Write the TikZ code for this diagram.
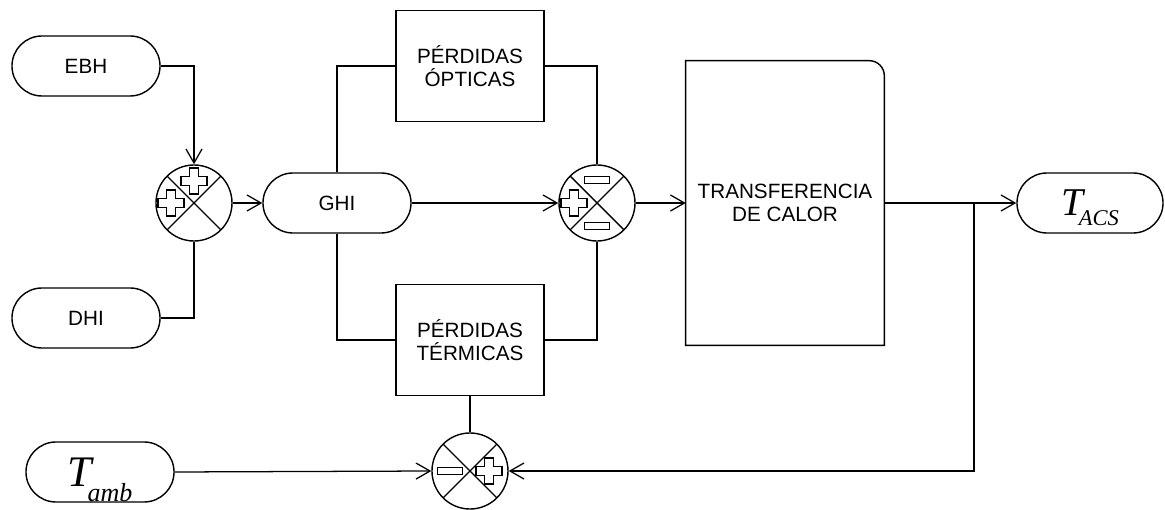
\documentclass[tikz,border=0pt]{standalone}
\usepackage{fontspec}
\setmainfont{Liberation Sans}
\newfontfamily\timesfont{Liberation Serif}
\usetikzlibrary{arrows.meta}
\newcommand{\tvar}[4]{{\timesfont\itshape\fontsize{#1}{#1}\selectfont T\kern-0.1em\smash{\raisebox{#3}{\fontsize{#2}{#2}\selectfont #4}}}}
\begin{document}
\begin{tikzpicture}[
  x=0.025cm, y=-0.025cm,
  >={Straight Barb[length=3.5mm,width=4mm]},
  every node/.style={font=\fontsize{14.7}{16.5}\selectfont},
  term/.style={draw, line width=1pt, rounded corners=0.75cm, minimum width=3.7cm, minimum height=1.5cm, inner sep=0pt},
  block/.style={draw, line width=1pt, align=center, minimum width=3.7cm, minimum height=2.775cm, inner sep=0pt},
  sumj/.style={draw, line width=1pt, circle, minimum size=1.9cm, inner sep=0pt,
    path picture={\draw[line width=1pt] (path picture bounding box.north west) -- (path picture bounding box.south east)
      (path picture bounding box.north east) -- (path picture bounding box.south west);}},
  wire/.style={line width=0.9pt},
  sign/.style={line width=0.9pt},
  plussign/.pic={\draw[sign] (-4.5,-13) -- (4.5,-13) -- (4.5,-4.5) -- (13,-4.5) -- (13,4.5) -- (4.5,4.5) -- (4.5,13)
    -- (-4.5,13) -- (-4.5,4.5) -- (-13,4.5) -- (-13,-4.5) -- (-4.5,-4.5) -- cycle;},
  minussign/.pic={\draw[sign] (-12.5,-3.5) rectangle (12.5,3.5);}
]
  \useasboundingbox (0,0) rectangle (1165,510);

  \node[term] (ebh) at (86,66) {EBH};
  \node[term] (dhi) at (86,318) {DHI};
  \node[term] (ghi) at (337,203) {GHI};
  \node[term] (tamb) at (100,472) {\tvar{31}{18.5}{-10.6pt}{amb}};
  \node[term, minimum width=3.65cm] (tacs) at (1090,203) {\tvar{28}{16}{-7pt}{ACS}};

  \node[sumj] (s1) at (194,203) {};
  \node[sumj] (s2) at (597,203) {};
  \node[sumj] (s3) at (470,471) {};
  \pic at (194,181) {plussign};
  \pic at (171,203) {plussign};
  \pic at (597,180) {minussign};
  \pic at (574,203) {plussign};
  \pic at (597,226) {minussign};
  \pic at (450,471) {minussign};
  \pic at (489,471) {plussign};

  \node[block] (opt) at (470,66) {PÉRDIDAS\\ÓPTICAS};
  \node[block] (ter) at (470,340) {PÉRDIDAS\\TÉRMICAS};

  \node[minimum width=4.95cm, minimum height=7.1cm, inner sep=0pt, align=center] (tr) at (785,203)
    {TRANSFERENCIA\\DE CALOR};
  \draw[line width=1pt] (tr.south west) -- (tr.north west) -- ([xshift=-0.375cm]tr.north east)
    arc[start angle=90, end angle=0, radius=0.375cm] -- (tr.south east) -- cycle;

  \coordinate (br) at (974,203);

  \draw[wire, ->] (ebh.east) -| (s1.north);
  \draw[wire] (dhi.east) -| (s1.south);
  \draw[wire, ->] (s1.east) -- (ghi.west);
  \draw[wire] (ghi.north) |- (opt.west);
  \draw[wire] (ghi.south) |- (ter.west);
  \draw[wire] (opt.east) -| (s2.north);
  \draw[wire] (ter.east) -| (s2.south);
  \draw[wire, ->] (ghi.east) -- (s2.west);
  \draw[wire, ->] (s2.east) -- (tr.west);
  \draw[wire, ->] (tr.east) -- (tacs.west);
  \draw[wire, ->] (br) |- (s3.east);
  \draw[wire] (ter.south) -- (s3.north);
  \draw[wire, ->] (tamb.east) -- (s3.west);
\end{tikzpicture}
\end{document}
